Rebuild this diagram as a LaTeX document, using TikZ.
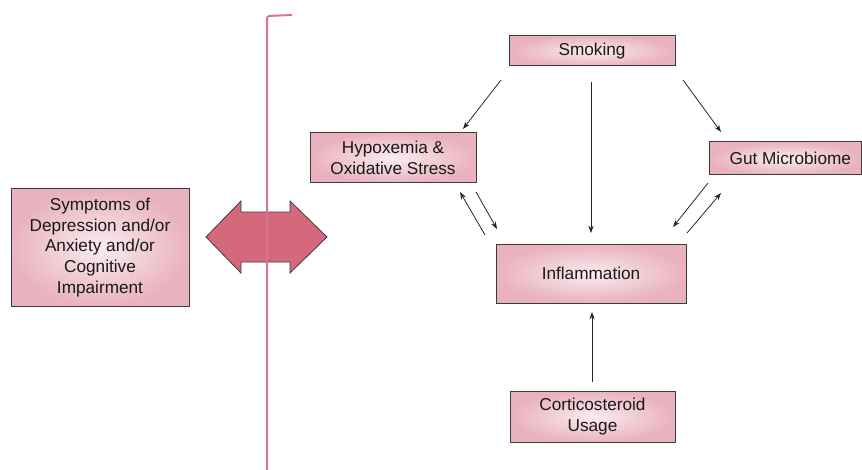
\documentclass[tikz,border=0pt]{standalone}
\usepackage{fontspec}
\setmainfont{Liberation Sans}
\usetikzlibrary{arrows.meta,calc}
\definecolor{boxedge}{RGB}{233,178,190}
\definecolor{boxmid}{RGB}{250,236,240}
\definecolor{boxline}{RGB}{60,60,60}
\definecolor{bigarrow}{RGB}{214,104,124}
\definecolor{bracket}{RGB}{214,118,140}
\tikzset{
  pbox/.style={rectangle, draw=boxline, line width=0.75pt, inner sep=0pt, outer sep=0pt,
    shading=radial, inner color=boxmid, outer color=boxedge, align=center,
    font=\fontsize{12.9}{15.4}\selectfont, text=black!90},
  arr/.style={-{Stealth[length=5.5pt,width=4pt]}, line width=0.6pt, black!85}
}
\begin{document}
\begin{tikzpicture}[x=0.75pt,y=-0.75pt]
\useasboundingbox (0,0) rectangle (862,470);
% boxes
\node[pbox, minimum width=133.5pt, minimum height=87.75pt] (symp) at (100,247.5)
  {Symptoms of\\Depression and/or\\Anxiety and/or\\Cognitive\\Impairment};
\node[pbox, minimum width=124.5pt, minimum height=22.5pt] (smoke) at (592,51) {Smoking};
\node[pbox, minimum width=124.5pt, minimum height=37.5pt] (hyp) at (393,158) {Hypoxemia \&\\Oxidative Stress};
\node[pbox, minimum width=114pt, minimum height=24.75pt] (gut) at (785,158.5) {\hspace*{8pt}Gut Microbiome};
\node[pbox, minimum width=142.5pt, minimum height=44.25pt] (infl) at (591,273.5) {Inflammation};
\node[pbox, minimum width=123.75pt, minimum height=38.25pt] (cort) at (592.5,416.5) {Corticosteroid\\Usage};
% big double arrow
\draw[fill=bigarrow, draw=boxline, line width=0.6pt]
  (206,237) -- (241,201) -- (241,212) -- (290,212) -- (290,201) -- (327,237)
  -- (290,273) -- (290,262) -- (241,262) -- (241,273) -- cycle;
% bracket line
\draw[bracket, line width=1.5pt, rounded corners=2pt] (292,15) -- (267,16) -- (267,470);
% connectors
\draw[arr] ($(smoke.south west)+(-8,14)$) -- ($(hyp.north east)+(-13,-4)$);
\draw[arr] ($(smoke.south)+(-1,16)$) -- ($(infl.north)+(0,-11)$);
\draw[arr] ($(smoke.south east)+(8,14)$) -- ($(gut.north west)+(12,-10)$);
\draw[arr] ($(infl.north west)+(-11,-9)$) -- ($(hyp.south east)+(-16,9)$);
\draw[arr] ($(hyp.south east)+(0,9)$) -- ($(infl.north west)+(1,-15)$);
\draw[arr] ($(gut.south west)+(-1,8)$) -- ($(infl.north east)+(-13,-17)$);
\draw[arr] ($(infl.north east)+(1,-11)$) -- ($(gut.south west)+(12,18)$);
\draw[arr] ($(cort.north)+(-0.5,-9)$) -- ($(infl.south)+(1,9)$);
\end{tikzpicture}
\end{document}
